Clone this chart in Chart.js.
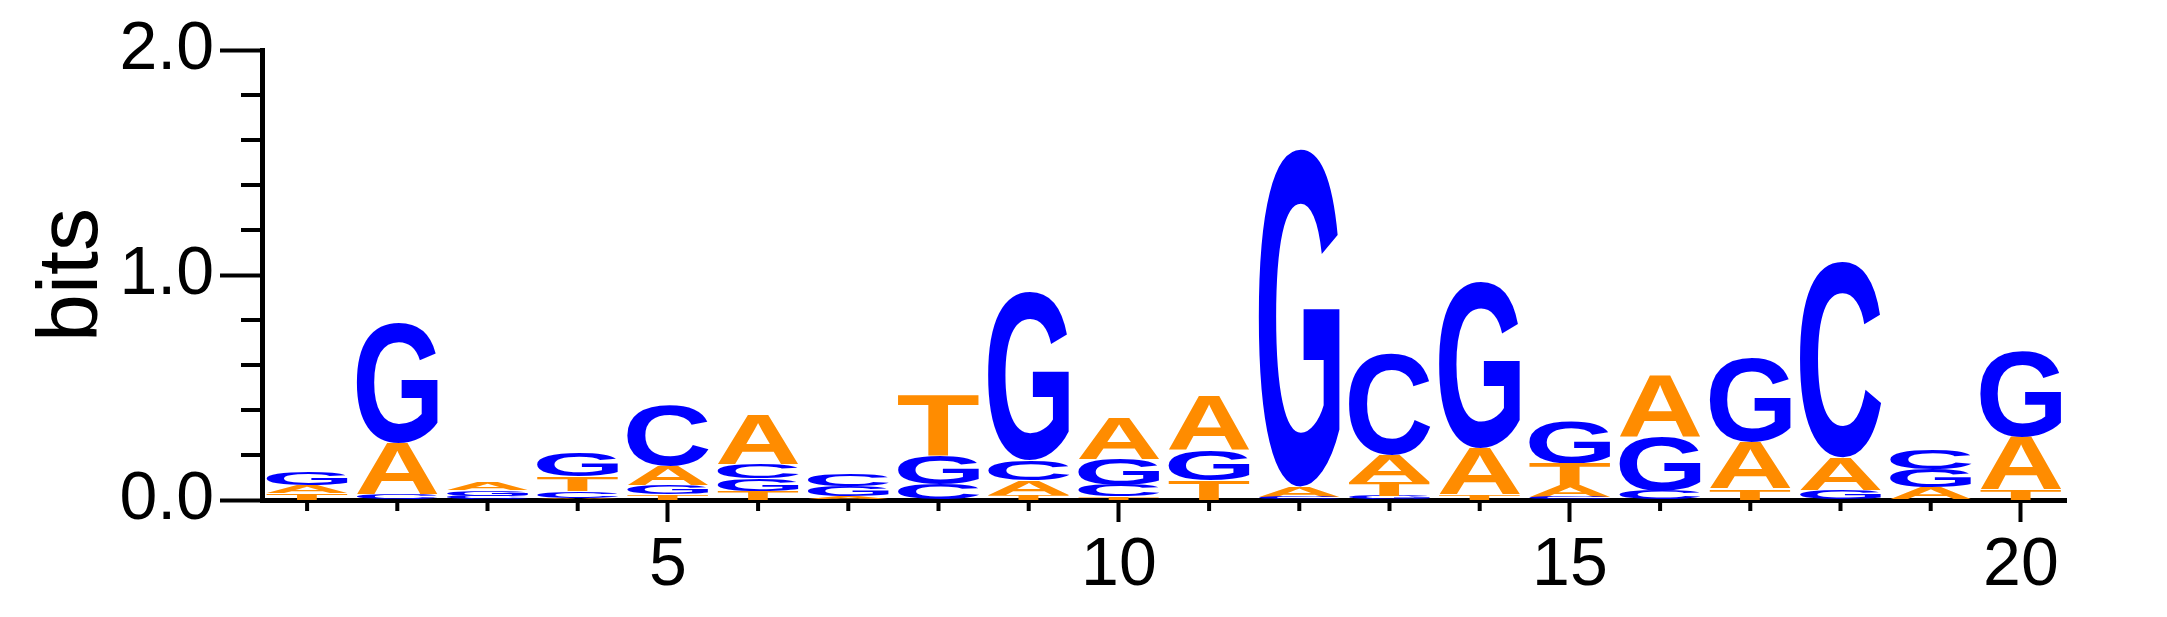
<!DOCTYPE html>
<html>
<head>
<meta charset="utf-8">
<script src="https://cdn.jsdelivr.net/npm/chart.js@4"></script>
<style>
  html, body { margin: 0; padding: 0; background: #fff; }
  #wrap { width: 2167px; height: 617px; }
</style>
</head>
<body>
<div id="wrap"><canvas id="logoChart"></canvas></div>
<script>
const positions = [1, 2, 3, 4, 5, 6, 7, 8, 9, 10, 11, 12, 13, 14, 15, 16, 17, 18, 19, 20];
// information content of each base at each position, in bits
const heightA = [0.035, 0.23, 0.035, 0.008, 0.085, 0.22, 0.015, 0, 0.065, 0.185, 0.24, 0.045, 0.12, 0.205, 0.05, 0.275, 0.205, 0.145, 0.055, 0.235];
const heightC = [0, 0.025, 0.018, 0.03, 0.27, 0.065, 0.05, 0.07, 0.09, 0.05, 0, 0.015, 0.45, 0, 0.012, 0.04, 0, 0.87, 0.088, 0];
const heightG = [0.056, 0.53, 0.025, 0.105, 0.04, 0.055, 0.045, 0.13, 0.75, 0.115, 0.135, 1.5, 0.02, 0.74, 0.185, 0.24, 0.375, 0.045, 0.082, 0.38];
const heightT = [0.03, 0, 0, 0.065, 0.025, 0.04, 0, 0.27, 0.022, 0.015, 0.085, 0, 0.06, 0.025, 0.1, 0, 0.05, 0, 0, 0.045];
const majorX = [5, 10, 15, 20];
const yTicks = [0, 0.2, 0.4, 0.6, 0.8, 1.0, 1.2, 1.4, 1.6, 1.8, 2.0];
const yLabels = ['0.0', '1.0', '2.0'];

const letters = ['A', 'C', 'G', 'T'];
const heights = { A: heightA, C: heightC, G: heightG, T: heightT };
const colors = { A: '#ff8c00', C: '#0000ff', G: '#0000ff', T: '#ff8c00' };

// stack letters per column, smallest at the bottom
const spans = { A: [], C: [], G: [], T: [] };
positions.forEach((p, i) => {
    const order = letters.slice().sort((a, b) => heights[a][i] - heights[b][i]);
    let base = 0;
    order.forEach(l => {
        spans[l][i] = [base, base + heights[l][i]];
        base += heights[l][i];
    });
});

const FONT = '"Liberation Sans", Arial, sans-serif';

function drawLetter(ctx, ch, color, x0, x1, yTop, yBottom) {
    const h = yBottom - yTop;
    if (h < 0.3) return;
    ctx.save();
    ctx.font = 'bold 200px ' + FONT;
    const m = ctx.measureText(ch);
    const gw = m.actualBoundingBoxLeft + m.actualBoundingBoxRight;
    const gh = m.actualBoundingBoxAscent + m.actualBoundingBoxDescent;
    ctx.translate(x0, yTop);
    ctx.scale((x1 - x0) / gw, h / gh);
    ctx.fillStyle = color;
    ctx.textBaseline = 'alphabetic';
    ctx.textAlign = 'left';
    ctx.fillText(ch, m.actualBoundingBoxLeft, m.actualBoundingBoxAscent);
    ctx.restore();
}

const letterPlugin = {
    id: 'letters',
    afterDatasetsDraw(chart) {
        const ctx = chart.ctx;
        chart.data.datasets.forEach((ds, di) => {
            const meta = chart.getDatasetMeta(di);
            meta.data.forEach(bar => {
                const p = bar.getProps(['x', 'y', 'base', 'width'], true);
                const top = Math.min(p.y, p.base);
                const bottom = Math.max(p.y, p.base);
                drawLetter(ctx, ds.label, colors[ds.label], p.x - p.width / 2, p.x + p.width / 2, top, bottom);
            });
        });
    }
};

// short ticks for the unlabeled positions
const minorTicks = {
    id: 'minorTicks',
    afterDraw(chart) {
        const ctx = chart.ctx;
        const xs = chart.scales.x, ys = chart.scales.y;
        const area = chart.chartArea;
        ctx.save();
        ctx.strokeStyle = '#000';
        ctx.lineWidth = 4;
        ctx.beginPath();
        positions.filter(p => !majorX.includes(p)).forEach(p => {
            const px = xs.getPixelForValue(p);
            ctx.moveTo(px, area.bottom);
            ctx.lineTo(px, area.bottom + 11);
        });
        yTicks.filter(v => !yLabels.includes(v.toFixed(1))).forEach(v => {
            const py = ys.getPixelForValue(v);
            ctx.moveTo(area.left, py);
            ctx.lineTo(area.left - 21, py);
        });
        ctx.stroke();
        ctx.restore();
    }
};

const ctx = document.getElementById('logoChart').getContext('2d');

new Chart(ctx, {
    type: 'bar',
    data: {
        datasets: letters.map(l => ({
            label: l,
            data: positions.map((p, i) => ({ x: p, y: spans[l][i] })),
            backgroundColor: 'rgba(0,0,0,0)',
            borderWidth: 0,
            grouped: false,
            barPercentage: 0.9,
            categoryPercentage: 1.0
        }))
    },
    options: {
        responsive: true,
        maintainAspectRatio: false,
        animation: false,
        layout: { padding: { top: 50, right: 101, left: 0, bottom: 0 } },
        plugins: {
            legend: { display: false },
            tooltip: { enabled: false }
        },
        scales: {
            x: {
                type: 'linear',
                min: 0.5,
                max: 20.5,
                offset: false,
                z: 1,
                afterBuildTicks: scale => { scale.ticks = positions.map(v => ({ value: v })); },
                afterFit: scale => { scale.height = 117; },
                ticks: {
                    autoSkip: false,
                    maxRotation: 0,
                    padding: 3,
                    color: '#000',
                    font: { family: FONT, size: 68 },
                    callback: v => majorX.includes(v) ? String(v) : ''
                },
                grid: {
                    offset: false,
                    drawOnChartArea: false,
                    tickLength: 22,
                    tickWidth: 4,
                    tickColor: c => (c.tick && majorX.includes(c.tick.value)) ? '#000' : 'rgba(0,0,0,0)'
                },
                border: { display: true, color: '#000', width: 5 }
            },
            y: {
                type: 'linear',
                min: 0,
                max: 2,
                z: 1,
                afterBuildTicks: scale => { scale.ticks = yTicks.map(v => ({ value: v })); },
                afterFit: scale => { scale.width = 262; },
                title: {
                    display: true,
                    text: 'bits',
                    color: '#000',
                    font: { family: FONT, size: 86 },
                    padding: { top: 22, bottom: 0 }
                },
                ticks: {
                    autoSkip: false,
                    padding: 6,
                    color: '#000',
                    font: { family: FONT, size: 68 },
                    callback: v => yLabels.includes(Number(v).toFixed(1)) ? Number(v).toFixed(1) : ''
                },
                grid: {
                    drawOnChartArea: false,
                    tickLength: 42,
                    tickWidth: 4,
                    tickColor: c => (c.tick && yLabels.includes(c.tick.value.toFixed(1))) ? '#000' : 'rgba(0,0,0,0)'
                },
                border: { display: true, color: '#000', width: 5 }
            }
        }
    },
    plugins: [letterPlugin, minorTicks]
});
</script>
</body>
</html>
